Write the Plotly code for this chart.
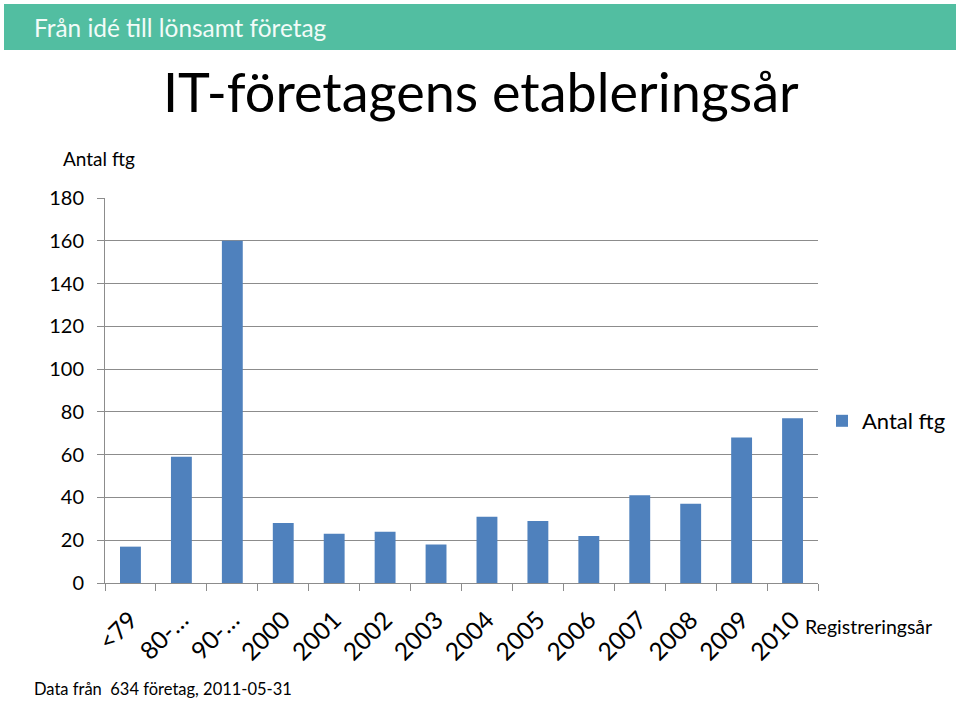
import plotly.graph_objects as go

categories = ["<79", "80-…", "90-…", "2000", "2001", "2002", "2003", "2004",
              "2005", "2006", "2007", "2008", "2009", "2010"]
antal_ftg = [17, 59, 160, 28, 23, 24, 18, 31, 29, 22, 41, 37, 68, 77]
y_ticks = [0, 20, 40, 60, 80, 100, 120, 140, 160, 180]

FONT = "Lato"
W, H = 960, 701
L, R, T, B = 105, 818, 198, 583  # plot area in px


def px(x):
    return (x - L) / (R - L)


def py(y):
    return (B - y) / (B - T)


fig = go.Figure()
fig.add_trace(go.Bar(
    x=categories, y=antal_ftg, name="Antal ftg",
    marker=dict(color="#4F81BD", line=dict(width=0)),
))

fig.update_layout(
    template="none",
    width=W, height=H, autosize=False,
    margin=dict(l=L, r=W - R, t=T, b=H - B, pad=0, autoexpand=False),
    paper_bgcolor="white", plot_bgcolor="white",
    font=dict(family=FONT, color="#000000"),
    bargap=0.59,
    showlegend=True,
    legend=dict(xref="container", yref="container",
                x=822 / W, y=1 - 421 / H, xanchor="left", yanchor="middle",
                font=dict(size=22, family=FONT, color="#000000"),
                bgcolor="rgba(0,0,0,0)", borderwidth=0, itemwidth=30),
    xaxis=dict(
        type="category", tickangle=-45, tickfont=dict(size=24.5, family=FONT),
        ticks="outside", ticklen=7, tickcolor="#8C8C8C", tickson="boundaries",
        ticklabelstandoff=12, automargin=False,
        showline=True, linecolor="#8C8C8C", linewidth=1,
        showgrid=False, range=[-0.5, 13.5], fixedrange=True,
    ),
    yaxis=dict(
        range=[0, 180], tickvals=y_ticks, tickfont=dict(size=20, family=FONT),
        ticks="outside", ticklen=7, tickcolor="#8C8C8C",
        ticklabelstandoff=9, automargin=False,
        showline=True, linecolor="#8C8C8C", linewidth=1,
        showgrid=True, gridcolor="#8C8C8C", gridwidth=1, zeroline=False,
        fixedrange=True,
    ),
    shapes=[dict(type="rect", xref="paper", yref="paper",
                 x0=px(4), x1=px(956), y0=py(50), y1=py(4),
                 fillcolor="#52BEA1", line=dict(width=0), layer="below")],
    annotations=[
        dict(text="Från idé till lönsamt företag", xref="paper", yref="paper",
             x=px(32), y=py(27), xanchor="left", yanchor="middle",
             showarrow=False, font=dict(size=24.4, color="#F2FBF8", family=FONT)),
        dict(text="IT-företagens etableringsår", xref="paper", yref="paper",
             x=px(481), y=py(91), xanchor="center", yanchor="middle",
             showarrow=False, font=dict(size=54, color="#000000", family=FONT)),
        dict(text="Antal ftg", xref="paper", yref="paper",
             x=px(61), y=py(158), xanchor="left", yanchor="middle",
             showarrow=False, font=dict(size=19, color="#000000", family=FONT)),
        dict(text="Registreringsår", xref="paper", yref="paper",
             x=px(803), y=py(626), xanchor="left", yanchor="middle",
             showarrow=False, font=dict(size=19.5, color="#000000", family=FONT)),
        dict(text="Data från  634 företag, 2011-05-31", xref="paper", yref="paper",
             x=px(32), y=py(689), xanchor="left", yanchor="middle",
             showarrow=False, font=dict(size=16.5, color="#000000", family=FONT)),
    ],
)

fig.write_html("out.html", config={"displayModeBar": False},
               post_script="document.body.style.margin='0';"
                           "document.documentElement.style.overflow='hidden';")
